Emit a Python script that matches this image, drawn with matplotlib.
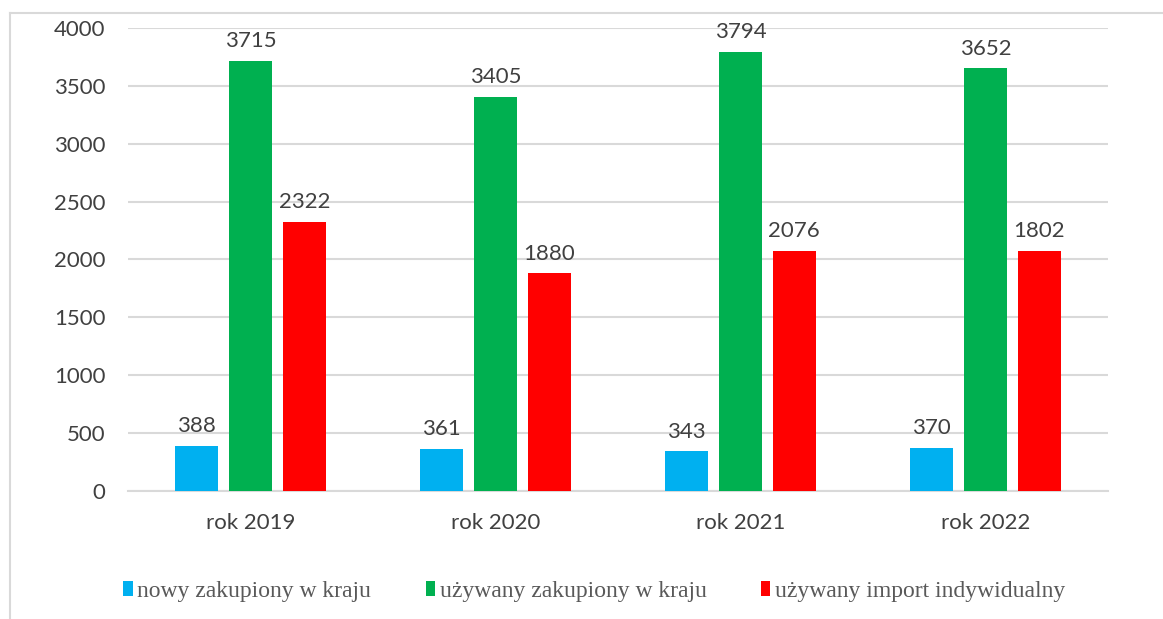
import numpy as np
import matplotlib
matplotlib.use("Agg")
import matplotlib.pyplot as plt
from matplotlib.lines import Line2D

years = ["rok 2019", "rok 2020", "rok 2021", "rok 2022"]
series = ["nowy zakupiony w kraju", "używany zakupiony w kraju", "używany import indywidualny"]
nowy = [388, 361, 343, 370]
uzywany_kraj = [3715, 3405, 3794, 3652]
# bar heights as drawn in the picture; last red bar is drawn at ~2076 but labelled 1802
uzywany_import = [2322, 1880, 2076, 2076]
import_labels = ["2322", "1880", "2076", "1802"]
colors = ["#00B0F0", "#00B050", "#FF0000"]

fig = plt.figure(figsize=(11.63, 6.19), dpi=100)
ax = fig.add_axes([0.110, 0.2068, 0.8427, 0.748])

x = np.arange(len(years))
w = 0.175
step = 0.22
all_vals = [nowy, uzywany_kraj, uzywany_import]
all_labels = [[str(v) for v in nowy], [str(v) for v in uzywany_kraj], import_labels]
for i, (vals, labs) in enumerate(zip(all_vals, all_labels)):
    pos = x + (i - 1) * step
    bars = ax.bar(pos, vals, width=w, color=colors[i], zorder=3, label=series[i])
    for b, lab in zip(bars, labs):
        ax.annotate(lab, (b.get_x() + b.get_width() / 2, b.get_height()),
                    xytext=(0, 7), textcoords="offset points", ha="center", va="bottom",
                    fontsize=16, family="Lato", color="#404040")

ax.set_xlim(-0.5, 3.5)
ax.set_ylim(0, 4000)
ax.set_yticks(range(0, 4001, 500))
ax.set_xticks(x)
ax.set_xticklabels(years)
ax.yaxis.grid(True, color="#d9d9d9", linewidth=1.5, zorder=0)
for s in ["top", "right", "left"]:
    ax.spines[s].set_visible(False)
ax.spines["bottom"].set_color("#d9d9d9")
ax.spines["bottom"].set_linewidth(1.5)
ax.tick_params(axis="both", length=0, labelsize=16, labelcolor="#404040")
ax.tick_params(axis="y", pad=16)
ax.tick_params(axis="x", pad=16)
for t in ax.get_xticklabels() + ax.get_yticklabels():
    t.set_family("Lato")

# outer chart frame
fig.add_artist(Line2D([10 / 1163, 1.0], [1 - 13 / 619, 1 - 13 / 619], color="#d9d9d9", lw=1.5))
fig.add_artist(Line2D([10 / 1163, 10 / 1163], [0, 1 - 13 / 619], color="#d9d9d9", lw=1.5))

fig.legend(loc="center", bbox_to_anchor=(0.511, 0.045), ncol=3, frameon=False,
           prop={"family": "Liberation Serif", "size": 17}, labelcolor="#595959",
           handlelength=0.4, handleheight=0.6, handletextpad=0.2, columnspacing=2.3)

fig.savefig("out.png", dpi=100)
